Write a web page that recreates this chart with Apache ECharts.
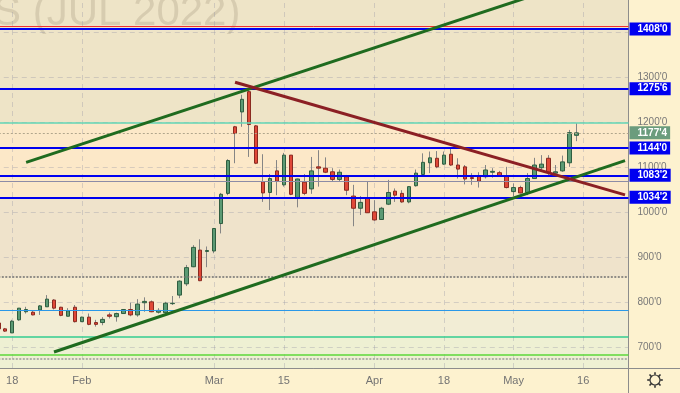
<!DOCTYPE html>
<html><head><meta charset="utf-8">
<script src="https://cdn.jsdelivr.net/npm/echarts@6/dist/echarts.min.js"></script>
<style>html,body{margin:0;padding:0;background:#fdf2cf}#c{width:680px;height:393px}</style>
</head><body><div id="c"></div>
<script>
// ---- data ----
const dates = [
'2022-01-13','2022-01-14','2022-01-18','2022-01-19','2022-01-20','2022-01-21','2022-01-24','2022-01-25','2022-01-26','2022-01-27','2022-01-28','2022-01-31',
'2022-02-01','2022-02-02','2022-02-03','2022-02-04','2022-02-07','2022-02-08','2022-02-09','2022-02-10','2022-02-11','2022-02-14','2022-02-15','2022-02-16','2022-02-17','2022-02-18','2022-02-22','2022-02-23','2022-02-24','2022-02-25','2022-02-28',
'2022-03-01','2022-03-02','2022-03-03','2022-03-04','2022-03-07','2022-03-08','2022-03-09','2022-03-10','2022-03-11','2022-03-14','2022-03-15','2022-03-16','2022-03-17','2022-03-18','2022-03-21','2022-03-22','2022-03-23','2022-03-24','2022-03-25','2022-03-28','2022-03-29','2022-03-30','2022-03-31',
'2022-04-01','2022-04-04','2022-04-05','2022-04-06','2022-04-07','2022-04-08','2022-04-11','2022-04-12','2022-04-13','2022-04-14','2022-04-18','2022-04-19','2022-04-20','2022-04-21','2022-04-22','2022-04-25','2022-04-26','2022-04-27','2022-04-28','2022-04-29',
'2022-05-02','2022-05-03','2022-05-04','2022-05-05','2022-05-06','2022-05-09','2022-05-10','2022-05-11','2022-05-12','2022-05-13',
'2022-05-16','2022-05-17','2022-05-18','2022-05-19','2022-05-20','2022-05-23','2022-05-24'
];
const opens  = [755,742,733,762,780,779,784,791,806,790,770,790,758,768,756,756,773,769,776,785,773,800,802,779,778,798,817,842,880,917,914,915,976,1043,1191,1224,1269,1193,1069,1045,1093,1062,1128,1032,1068,1053,1102,1099,1091,1074,1080,1037,1010,1032,1002,985,1019,1048,1043,1024,1060,1085,1111,1121,1108,1130,1106,1102,1078,1082,1080,1090,1089,1082,1047,1056,1045,1076,1100,1121,1088,1093,1111,1172];
const closes = [742,737,759,788,785,773,793,808,788,772,782,758,768,752,752,763,770,776,785,773,797,803,780,783,799,799,848,878,923,849,916,965,1041,1116,1176,1252,1196,1110,1044,1076,1070,1128,1041,1075,1043,1093,1099,1090,1074,1090,1050,1010,1023,1000,984,1010,1045,1039,1024,1058,1088,1112,1122,1102,1128,1106,1097,1075,1076,1070,1095,1092,1082,1056,1056,1044,1076,1106,1108,1090,1091,1113,1178,1177.5];
const lows   = [737,735,733,760,776,772,773,791,785,770,770,756,757,750,747,750,765,758,776,770,769,780,779,776,777,795,810,837,879,848,879,910,954,1039,1110,1191,1124,1108,1024,1006,1039,1058,1039,1012,1039,1042,1058,1088,1069,1069,1039,970,995,1000,982,984,1017,1024,1022,1021,1058,1084,1088,1099,1106,1104,1076,1063,1062,1056,1076,1078,1080,1054,1037,1043,1039,1076,1095,1084,1084,1091,1102,1159];
const highs  = [759,744,762,788,791,782,795,817,808,791,788,795,769,776,762,768,778,778,786,800,808,812,805,788,802,815,850,884,928,941,925,966,1044,1119,1193,1262,1276,1195,1130,1086,1117,1133,1128,1076,1086,1124,1139,1123,1099,1096,1084,1062,1037,1069,1028,1013,1073,1054,1050,1059,1096,1132,1136,1137,1136,1143,1121,1106,1088,1090,1106,1099,1093,1102,1065,1060,1088,1122,1128,1128,1106,1127,1184,1199];
const xTickLabels = {'2022-01-18':'18','2022-02-01':'Feb','2022-03-01':'Mar','2022-03-15':'15','2022-04-01':'Apr','2022-04-18':'18','2022-05-02':'May','2022-05-16':'16'};
const yTicks = [700,800,900,1000,1100,1200,1300];
const yGridValues = [700,800,900,1000,1100,1200,1300,1400];
const yMin = 655, yMax = 1472.7;
const blueLevels = [1408, 1275.75, 1144, 1083.25, 1034.25];
const lastPrice = 1177.5;
const redLevel = 1415, tealLevel = 1200, greyLevel = 1069, blueThinLevel = 783, greenLevel = 725, limeLevel = 685;
const dottedLevels = [858, 676];
const bandEdges = [yMin, 725, 783, 858, 1034.25, 1200, yMax];
const upperChannel = [['2022-01-20',1112],['2022-05-13',1514]];
const lowerChannel = [['2022-01-26',690.5],['2022-05-24',1115.8]];
const downTrend   = [['2022-03-04',1289.8],['2022-05-24',1039.6]];

// ---- styling ----
const FONT = '"Liberation Sans", Arial, sans-serif';
const bandColors = ['#eef0d3','#f2edd5','#f6ebd0','#efe3cb','#fce8c8','#eee4c7'];
function fmtPrice(v){ const w = Math.floor(v); return w + "'" + Math.round((v - w) * 8); }
function boxLabel(bg){
  return {show:true, position:'end', distance:1, formatter:p=>fmtPrice(p.value),
    backgroundColor:bg, color:'#fff', fontWeight:'bold', fontSize:10, fontFamily:FONT,
    padding:[2,3,1,8], lineHeight:10};
}
const levelLines = [];
blueLevels.forEach(v=>levelLines.push({yAxis:v, lineStyle:{color:'#0000f0', width:2, type:'solid'}, label:boxLabel('#0000f0')}));
levelLines.push({yAxis:redLevel, lineStyle:{color:'#f03030', width:1, type:'solid'}});
levelLines.push({yAxis:tealLevel, lineStyle:{color:'#63d6b6', width:1.5, type:'solid'}});
levelLines.push({yAxis:lastPrice, lineStyle:{color:'#b0a58c', width:1, type:[2,2]}, label:boxLabel('#6b9c7d')});
levelLines.push({yAxis:greyLevel, lineStyle:{color:'#8d8ca6', width:1, type:'solid'}});
levelLines.push({yAxis:blueThinLevel, lineStyle:{color:'#2a98e8', width:1, type:'solid'}});
levelLines.push({yAxis:greenLevel, lineStyle:{color:'#33cc90', width:1.5, type:'solid'}});
levelLines.push({yAxis:limeLevel, lineStyle:{color:'#5cd93a', width:1.5, type:'solid'}});
dottedLevels.forEach((v,i)=>levelLines.push({yAxis:v, lineStyle:{color:i===0?'#6f6f6f':'#9a9a9a', width:1.5, type:[2,1.5]}}));

const gridLines = [];
yGridValues.forEach(v=>gridLines.push({yAxis:v}));
Object.keys(xTickLabels).forEach(d=>gridLines.push({xAxis:d}));

const bands = [];
for (let i=0;i<bandEdges.length-1;i++) bands.push([{yAxis:bandEdges[i], itemStyle:{color:bandColors[i]}},{yAxis:bandEdges[i+1]}]);

const wickData = opens.map((o,i)=>[o, closes[i], lows[i], highs[i]]);
const bodyData = opens.map((o,i)=>[o, closes[i], Math.min(o,closes[i]), Math.max(o,closes[i])]);

const gear = [];
for (let k=0;k<8;k++){
  const a = k*Math.PI/4;
  gear.push({type:'line', z:10, shape:{x1:655+Math.cos(a)*5.2, y1:380+Math.sin(a)*5.2, x2:655+Math.cos(a)*7.8, y2:380+Math.sin(a)*7.8}, style:{stroke:'#333', lineWidth:1.6}});
}
gear.push({type:'circle', z:10, shape:{cx:655, cy:380, r:5}, style:{stroke:'#333', fill:'#fdf2cf', lineWidth:1.2}});

const chart = echarts.init(document.getElementById('c'), null, {renderer:'canvas'});
chart.setOption({
  animation:false,
  backgroundColor:'#fdf2cf',
  grid:{left:-5.2, right:51.5, top:0, bottom:25, outerBoundsMode:'none', containLabel:false},
  xAxis:{type:'category', data:dates, boundaryGap:true,
    axisLine:{lineStyle:{color:'#8c8c8c'}}, axisTick:{show:false}, splitLine:{show:false},
    axisLabel:{interval:(i,v)=>xTickLabels[v]!==undefined, formatter:v=>xTickLabels[v]||'', color:'#737373', fontSize:11, fontFamily:FONT, margin:7}},
  yAxis:{type:'value', position:'right', min:yMin, max:yMax, scale:true,
    axisLine:{show:true, lineStyle:{color:'#8c8c8c'}}, axisTick:{show:false}, splitLine:{show:false},
    axisLabel:{customValues:yTicks, formatter:v=>v+"'0", color:'#787878', fontSize:10, fontFamily:FONT, margin:9}},
  graphic:[
    {type:'text', z:1, x:-7, y:-8, style:{text:'S (JUL 2022)', font:'42px "Liberation Sans"', fill:'rgba(125,110,85,0.2)'}},
    {type:'line', z:10, shape:{x1:628.5, y1:368.5, x2:680, y2:368.5}, style:{stroke:'#8c8c8c', lineWidth:1}},
    {type:'line', z:10, shape:{x1:628.5, y1:368, x2:628.5, y2:393}, style:{stroke:'#8c8c8c', lineWidth:1}},
    ...gear
  ],
  series:[
    {type:'line', data:[], silent:true, clip:false,
      markArea:{silent:true, z:0, data:bands},
      markLine:{silent:true, z:1, symbol:'none', label:{show:false}, lineStyle:{color:'rgba(150,150,165,0.35)', width:1, type:[5,4]}, data:gridLines}},
    {type:'candlestick', data:wickData, barWidth:1, silent:true, z:2,
      itemStyle:{color:'#858585', color0:'#858585', borderColor:'#858585', borderColor0:'#858585', borderWidth:1}},
    {type:'candlestick', data:bodyData, barWidth:4, silent:true, z:3,
      itemStyle:{color:'#5b9a74', color0:'#e04838', borderColor:'#2f5e40', borderColor0:'#8a2a20', borderWidth:1}},
    {type:'line', data:[], silent:true, clip:false,
      markLine:{silent:true, z:5, symbol:'none', label:{show:false}, data:levelLines}},
    {type:'line', data:upperChannel, symbol:'none', z:6, silent:true, lineStyle:{color:'#1f6b1f', width:3}},
    {type:'line', data:lowerChannel, symbol:'none', z:6, silent:true, lineStyle:{color:'#1f6b1f', width:3}},
    {type:'line', data:downTrend, symbol:'none', z:6, silent:true, lineStyle:{color:'#8b1f24', width:3}}
  ]
});
</script></body></html>
